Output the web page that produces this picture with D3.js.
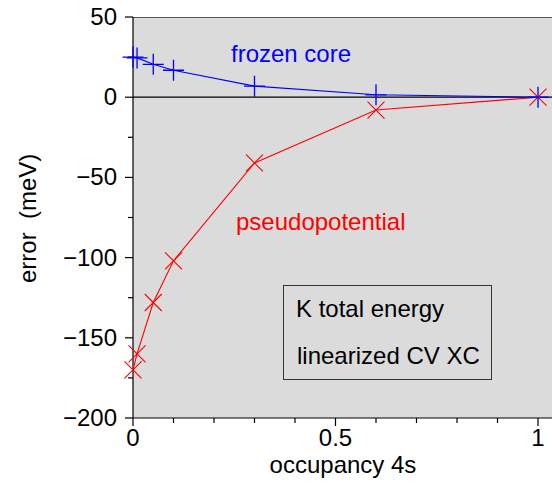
<!DOCTYPE html>
<html>
<head>
<meta charset="utf-8">
<script src="https://cdn.jsdelivr.net/npm/d3@7"></script>
<style>
  body { margin: 0; background: #fff; }
  text { font-family: "Liberation Sans", Arial, sans-serif; }
</style>
</head>
<body>
<figure id="chart" style="margin:0"></figure>
<script>
// occupancy of the 4s level
const occupancy = [0, 0.01, 0.05, 0.1, 0.3, 0.6, 1];
// error (meV)
const frozenCore = [25, 24.5, 20.5, 16.8, 6.9, 1.5, 0];
const pseudopotential = [-170, -160, -128, -102, -41, -8, 0];

const xMajor = [0, 0.5, 1];
const xMajorLabels = ["0", "0.5", "1"];
const yMajor = [50, 0, -50, -100, -150, -200];
const yMajorLabels = ["50", "0", "\u221250", "\u2212100", "\u2212150", "\u2212200"];

const width = 552, height = 484;
const fs = 24;

const svg = d3.select("#chart")
  .append("svg")
  .attr("width", width)
  .attr("height", height);

const x = d3.scaleLinear().domain([0, 1]).range([133, 538]);
const y = d3.scaleLinear().domain([-200, 50]).range([418, 17]);

// plot background
svg.append("rect")
  .attr("x", x(0)).attr("y", y(50))
  .attr("width", width - x(0)).attr("height", y(-200) - y(50))
  .attr("fill", "#dbdbdb");

// top frame
svg.append("line")
  .attr("x1", x(0)).attr("x2", width)
  .attr("y1", y(50) + 0.5).attr("y2", y(50) + 0.5)
  .attr("stroke", "#555").attr("stroke-width", 1.2);

// X axis
const xAxis = svg.append("g").attr("transform", "translate(0," + y(-200) + ")");
xAxis.append("line")
  .attr("x1", x(0)).attr("x2", width)
  .attr("stroke", "#000").attr("stroke-width", 1.2);
xAxis.selectAll(".minor")
  .data(d3.range(0, 11).map(i => i / 10))
  .enter().append("line")
  .attr("x1", d => x(d)).attr("x2", d => x(d))
  .attr("y1", 0).attr("y2", d => xMajor.includes(d) ? 8 : 5)
  .attr("stroke", "#000").attr("stroke-width", 1.2);
xAxis.selectAll(".lab")
  .data(xMajor)
  .enter().append("text")
  .attr("x", d => x(d)).attr("y", 28)
  .attr("text-anchor", "middle")
  .style("font-size", fs + "px")
  .text((d, i) => xMajorLabels[i]);

// Y axis
const yAxis = svg.append("g").attr("transform", "translate(" + x(0) + ",0)");
yAxis.append("line")
  .attr("y1", y(50)).attr("y2", y(-200))
  .attr("stroke", "#000").attr("stroke-width", 1.2);
yAxis.selectAll(".minor")
  .data(d3.range(-200, 51, 25))
  .enter().append("line")
  .attr("y1", d => y(d)).attr("y2", d => y(d))
  .attr("x1", d => yMajor.includes(d) ? -8 : -5).attr("x2", 0)
  .attr("stroke", "#000").attr("stroke-width", 1.2);
yAxis.selectAll(".lab")
  .data(yMajor)
  .enter().append("text")
  .attr("x", -16).attr("y", d => y(d) + 8)
  .attr("text-anchor", "end")
  .style("font-size", fs + "px")
  .text((d, i) => yMajorLabels[i]);

// zero line
svg.append("line")
  .attr("x1", x(0)).attr("x2", width)
  .attr("y1", y(0)).attr("y2", y(0))
  .attr("stroke", "#000").attr("stroke-width", 1.2);

// axis titles
svg.append("text")
  .attr("x", 343).attr("y", 473)
  .attr("text-anchor", "middle")
  .style("font-size", fs + "px")
  .text("occupancy 4s");
svg.append("text")
  .attr("transform", "translate(36,283) rotate(-90)")
  .attr("text-anchor", "start")
  .style("font-size", fs + "px")
  .style("white-space", "pre")
  .text("error  (meV)");

// series
const line = d3.line().x(d => x(d[0])).y(d => y(d[1]));

const redPts = occupancy.map((o, i) => [o, pseudopotential[i]]);
svg.append("path")
  .datum(redPts)
  .attr("d", line)
  .attr("fill", "none").attr("stroke", "#ff0000").attr("stroke-width", 1.1);
svg.append("g").selectAll("path")
  .data(redPts)
  .enter().append("path")
  .attr("d", d => {
    const cx = x(d[0]), cy = y(d[1]), s = 8.5;
    return `M${cx - s},${cy - s}L${cx + s},${cy + s}M${cx - s},${cy + s}L${cx + s},${cy - s}`;
  })
  .attr("stroke", "#ff0000").attr("stroke-width", 1.1);

const bluePts = occupancy.map((o, i) => [o, frozenCore[i]]);
svg.append("path")
  .datum(bluePts)
  .attr("d", line)
  .attr("fill", "none").attr("stroke", "#0000ff").attr("stroke-width", 1.1);
svg.append("g").selectAll("path")
  .data(bluePts)
  .enter().append("path")
  .attr("d", d => {
    const cx = x(d[0]), cy = y(d[1]), s = 10.5;
    return `M${cx - s},${cy}L${cx + s},${cy}M${cx},${cy - s}L${cx},${cy + s}`;
  })
  .attr("stroke", "#0000ff").attr("stroke-width", 1.3);

// series labels
svg.append("text")
  .attr("x", 231).attr("y", 62)
  .attr("fill", "#0000ff")
  .style("font-size", fs + "px")
  .text("frozen core");
svg.append("text")
  .attr("x", 236).attr("y", 230)
  .attr("fill", "#ff0000")
  .style("font-size", fs + "px")
  .text("pseudopotential");

// annotation box
svg.append("rect")
  .attr("x", 283.5).attr("y", 285.5)
  .attr("width", 208).attr("height", 94)
  .attr("fill", "none").attr("stroke", "#333").attr("stroke-width", 1);
svg.append("text")
  .attr("x", 296).attr("y", 317)
  .style("font-size", fs + "px")
  .text("K total energy");
svg.append("text")
  .attr("x", 297).attr("y", 364)
  .style("font-size", fs + "px")
  .text("linearized CV XC");
</script>
</body>
</html>
